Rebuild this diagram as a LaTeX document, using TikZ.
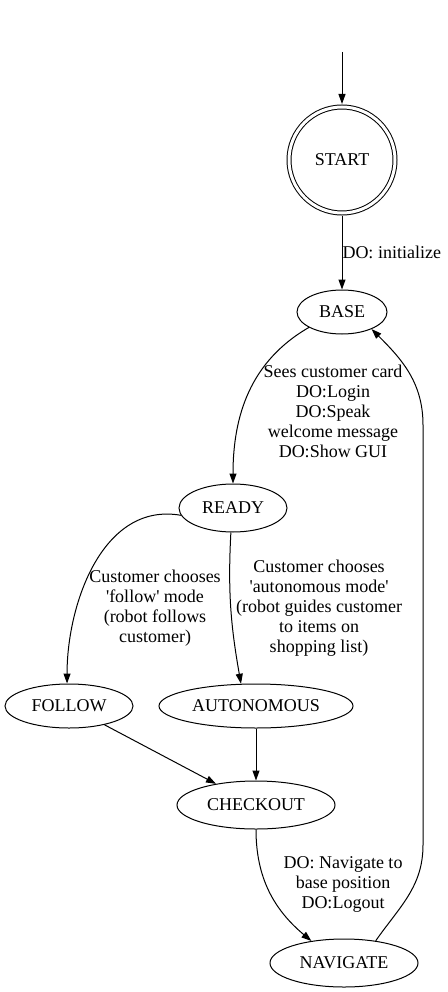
\documentclass[tikz,border=0pt]{standalone}
\usepackage{fontspec}
\setmainfont{Liberation Serif}
\usetikzlibrary{shapes.geometric,arrows.meta}
\begin{document}
\begin{tikzpicture}[
    x=1pt, y=-1pt,
    line width=1pt,
    state node/.style={draw, ellipse, inner sep=0pt, font=\fontsize{18}{20}\selectfont},
    edge label/.style={align=center, inner sep=0pt, font=\fontsize{18}{20}\selectfont},
    trans/.style={-{Triangle[length=10pt,width=7pt]}}
  ]
    \useasboundingbox (0,0) rectangle (447,992);

    % 1. States
    \coordinate (init) at (342,52);
    \node[draw, circle, double, double distance=3pt, minimum size=106pt, inner sep=0pt,
          outer sep=3pt, font=\fontsize{18}{20}\selectfont] (START) at (342,160) {START};
    \node[state node, minimum width=90pt, minimum height=44pt] (BASE) at (342,312) {BASE};
    \node[state node, minimum width=108pt, minimum height=48pt] (READY) at (233,508) {READY};
    \node[state node, minimum width=128pt, minimum height=44pt] (FOLLOW) at (69,706) {FOLLOW};
    \node[state node, minimum width=194pt, minimum height=44pt] (AUTONOMOUS) at (256,706) {AUTONOMOUS};
    \node[state node, minimum width=158pt, minimum height=48pt] (CHECKOUT) at (256,805) {CHECKOUT};
    \node[state node, minimum width=148pt, minimum height=48pt] (NAVIGATE) at (344,963) {NAVIGATE};

    % 2. Transitions
    \draw[trans] (init) -- (START);
    \draw[trans] (START) -- (BASE);
    \draw[trans] (BASE.205) to[out=210, in=90] (READY.north);
    \draw[trans] (READY.188) to[out=170, in=90] (FOLLOW.95);
    \draw[trans] (READY.265) to[out=-93, in=100] (AUTONOMOUS.124);
    \foreach \src in {FOLLOW,AUTONOMOUS} {
        \draw[trans] (\src) -- (CHECKOUT);
    }
    \draw[trans] (CHECKOUT.south) to[out=-90, in=140] (NAVIGATE.146);
    \coordinate (back1) at (423,845);
    \coordinate (back2) at (423,425);
    \draw[trans] (NAVIGATE.35) to[out=55, in=-90] (back1) -- (back2) to[out=90, in=-45] (BASE.-30);

    % 3. Labels
    \node[edge label, anchor=west] (lInit) at (342,252) {DO: initialize};
    \node[edge label] (lCard) at (333,411) {Sees customer card\\DO:Login\\DO:Speak\\welcome message\\DO:Show GUI};
    \node[edge label] (lFollow) at (155,608) {Customer chooses\\\textquotesingle follow\textquotesingle{} mode\\(robot follows\\customer)};
    \node[edge label] (lAuto) at (319,608) {Customer chooses\\\textquotesingle autonomous mode\textquotesingle\\(robot guides customer\\to items on\\shopping list)};
    \node[edge label] (lNav) at (343,884) {DO: Navigate to\\base position\\DO:Logout};

  \end{tikzpicture}
\end{document}
